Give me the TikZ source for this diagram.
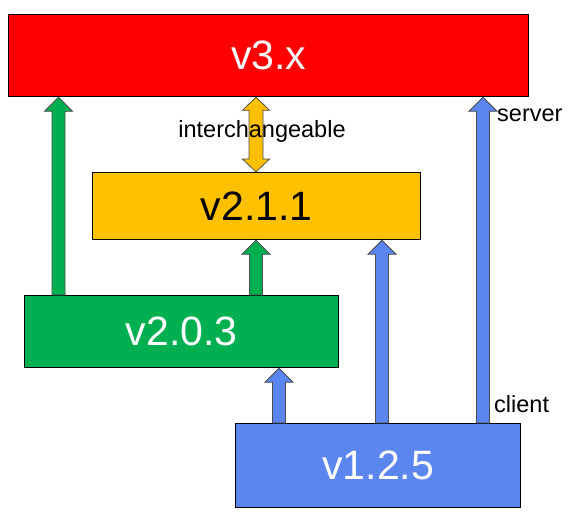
\documentclass[tikz,border=0pt]{standalone}
\usepackage{fontspec}
\setmainfont{Liberation Sans}
\usetikzlibrary{calc}
\definecolor{cred}{HTML}{FF0000}
\definecolor{cyel}{HTML}{FFC000}
\definecolor{cgrn}{HTML}{00B050}
\definecolor{cblu}{HTML}{5B86F0}
\tikzset{
  box/.style={draw=black, line width=1.3pt, rectangle, anchor=north west, inner sep=0pt,
    font=\fontsize{41}{45}\selectfont},
  lbl/.style={font=\fontsize{23.5}{26}\selectfont, inner sep=0pt},
  blk/.style={draw=black!70, line width=0.8pt, line join=miter},
}
% color, x, bottom anchor, top anchor
\newcommand\uparr[4]{%
  \path let \p1=(#3), \p2=(#4), \n1={#2*1pt} in
    [blk, fill=#1] (\n1-6.5pt,\y1) -- (\n1-6.5pt,\y2-14pt) -- (\n1-14pt,\y2-14pt) -- (\n1,\y2)
    -- (\n1+14pt,\y2-14pt) -- (\n1+6.5pt,\y2-14pt) -- (\n1+6.5pt,\y1) -- cycle;}
\newcommand\dblarr[4]{%
  \path let \p1=(#3), \p2=(#4), \n1={#2*1pt} in
    [blk, fill=#1] (\n1,\y1) -- (\n1-13.5pt,\y1+13pt) -- (\n1-7pt,\y1+13pt) -- (\n1-7pt,\y2-13pt)
    -- (\n1-13.5pt,\y2-13pt) -- (\n1,\y2) -- (\n1+13.5pt,\y2-13pt) -- (\n1+7pt,\y2-13pt)
    -- (\n1+7pt,\y1+13pt) -- (\n1+13.5pt,\y1+13pt) -- cycle;}
\begin{document}
\begin{tikzpicture}[x=1pt,y=-1pt]
\useasboundingbox (0,0) rectangle (570,516);
\node[box, fill=cred, text=white, minimum width=520pt, minimum height=82pt] (v3) at (8,14) {v3.x};
\node[box, fill=cyel, text=black, minimum width=328pt, minimum height=67pt] (v211) at (92,172) {v2.1.1};
\node[box, fill=cgrn, text=white, minimum width=314pt, minimum height=72pt] (v203) at (24,295) {v2.0.3};
\node[box, fill=cblu, text=white, minimum width=285pt, minimum height=84pt] (v125) at (235,423) {v1.2.5};
\uparr{cgrn}{58.5}{v203.north}{v3.south}
\uparr{cgrn}{256}{v203.north}{v211.south}
\dblarr{cyel}{256}{v211.north}{v3.south}
\uparr{cblu}{279}{v125.north}{v203.south}
\uparr{cblu}{382}{v125.north}{v211.south}
\uparr{cblu}{483}{v125.north}{v3.south}
\node[lbl] (ic) at (262,131) {interchangeable};
\node[lbl, anchor=west] (server) at (497,115) {server};
\node[lbl, anchor=west] (client) at (494,404) {client};
\end{tikzpicture}
\end{document}
